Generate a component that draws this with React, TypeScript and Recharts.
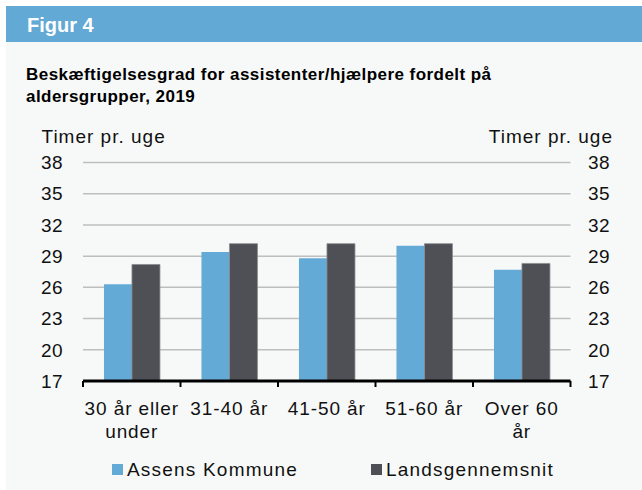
import { BarChart, Bar, XAxis, YAxis, CartesianGrid } from 'recharts';

const categories = ['30 år eller\nunder', '31-40 år', '41-50 år', '51-60 år', 'Over 60\når'];
const assensValues = [26.3, 29.4, 28.8, 30.0, 27.7];
const landsValues = [28.2, 30.2, 30.2, 30.2, 28.3];
const yTicks = [17, 20, 23, 26, 29, 32, 35, 38];
const seriesNames = ['Assens Kommune', 'Landsgennemsnit'];
const axisTitle = 'Timer pr. uge';

const BLUE = '#64AAD6';
const DARK = '#4F5055';
const FONT = '"Liberation Sans", Arial, Helvetica, sans-serif';

const chartData = categories.map((c, i) => ({
  name: c,
  assens: assensValues[i],
  lands: landsValues[i],
}));

const XTick = (props: any) => {
  const { x, y, payload, index } = props;
  const half = payload?.offset || 48.7;
  const lines = String(payload.value).split('\n');
  return (
    <g>
      <line x1={x - half} x2={x - half} y1={y} y2={y + 6} stroke="#000" strokeWidth={2} />
      {index === categories.length - 1 && (
        <line x1={x + half} x2={x + half} y1={y} y2={y + 6} stroke="#000" strokeWidth={2} />
      )}
      <text x={x} y={y + 33.5} textAnchor="middle" fill="#111" fontSize={19} fontFamily={FONT} letterSpacing={0.9}>
        {lines.map((l, i) => (
          <tspan key={i} x={x} dy={i === 0 ? 0 : 23}>
            {l}
          </tspan>
        ))}
      </text>
    </g>
  );
};

const tickStyle = { fill: '#111', fontSize: 19, fontFamily: FONT, letterSpacing: 0.4 };

export default function App() {
  return (
    <div style={{ position: 'absolute', left: 0, top: 0, width: 642, height: 490, background: '#fff', fontFamily: FONT, overflow: 'hidden' }}>
      <div style={{ position: 'absolute', left: 6, top: 6, width: 636, height: 36, background: '#63A9D5' }} />
      <div style={{ position: 'absolute', left: 6, top: 42, width: 636, height: 448, background: '#F7F9F9' }} />
      <svg style={{ position: 'absolute', left: 0, top: 0 }} width={642} height={140}>
        <text x={27} y={32} fill="#fff" fontWeight="bold" fontSize={20} fontFamily={FONT}>Figur 4</text>
        <text x={26} y={80} fill="#000" fontWeight="bold" fontSize={17} fontFamily={FONT} letterSpacing={0.45}>
          Beskæftigelsesgrad for assistenter/hjælpere fordelt på
        </text>
        <text x={26} y={102} fill="#000" fontWeight="bold" fontSize={17} fontFamily={FONT} letterSpacing={0.45}>
          aldersgrupper, 2019
        </text>
      </svg>
      <svg style={{ position: 'absolute', left: 0, top: 120 }} width={642} height={30}>
        <text x={41.5} y={22.7} fill="#111" fontSize={19} fontFamily={FONT} letterSpacing={1}>{axisTitle}</text>
        <text x={613} y={22.7} textAnchor="end" fill="#111" fontSize={19} fontFamily={FONT} letterSpacing={1}>{axisTitle}</text>
      </svg>
      <div style={{ position: 'absolute', left: 0, top: 140 }}>
        <BarChart
          width={642}
          height={301}
          data={chartData}
          margin={{ top: 22.5, right: 0, bottom: 0, left: 0 }}
          barCategoryGap="21.5%"
          barGap={0}
        >
          <CartesianGrid yAxisId="left" vertical={false} stroke="#BEBEBE" strokeWidth={1.5} />
          <XAxis
            dataKey="name"
            height={60}
            tickLine={false}
            tickSize={0}
            tickMargin={0}
            axisLine={{ stroke: '#000', strokeWidth: 3 }}
            tick={<XTick />}
            interval={0}
          />
          <YAxis
            yAxisId="left"
            width={83}
            domain={[17, 38]}
            ticks={yTicks}
            allowDataOverflow
            axisLine={false}
            tickLine={false}
            tickSize={6}
            tickMargin={14}
            tick={tickStyle}
            interval={0}
          />
          <YAxis
            yAxisId="right"
            orientation="right"
            width={71.5}
            domain={[17, 38]}
            ticks={yTicks}
            allowDataOverflow
            axisLine={false}
            tickLine={false}
            tickSize={6}
            tickMargin={11.5}
            tick={tickStyle}
            interval={0}
          />
          <Bar yAxisId="left" dataKey="assens" name={seriesNames[0]} fill={BLUE} isAnimationActive={false} />
          <Bar yAxisId="right" dataKey="lands" name={seriesNames[1]} fill={DARK} stroke="#8A8B8F" strokeWidth={0.8} isAnimationActive={false} />
        </BarChart>
      </div>
      <div style={{ position: 'absolute', left: 112.3, top: 464, width: 10.5, height: 10.7, background: BLUE }} />
      <div style={{ position: 'absolute', left: 371, top: 464, width: 10.5, height: 10.7, background: DARK }} />
      <svg style={{ position: 'absolute', left: 0, top: 450 }} width={642} height={40}>
        <text x={127} y={25.7} fill="#111" fontSize={19} fontFamily={FONT} letterSpacing={1.2}>{seriesNames[0]}</text>
        <text x={386} y={25.7} fill="#111" fontSize={19} fontFamily={FONT} letterSpacing={1.2}>{seriesNames[1]}</text>
      </svg>
    </div>
  );
}
